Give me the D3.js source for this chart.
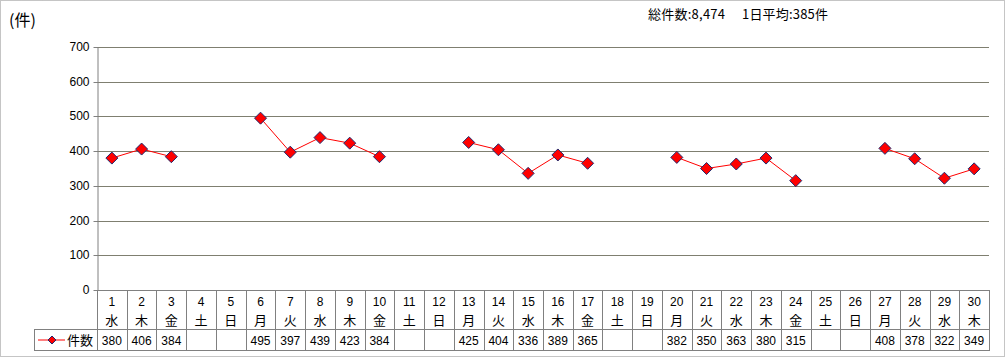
<!DOCTYPE html>
<html><head><meta charset="utf-8">
<script src="https://cdn.jsdelivr.net/npm/d3@7"></script>
<style>body{margin:0;background:#fff;}svg{display:block;font-family:"Noto Sans CJK JP","Noto Sans",sans-serif;}</style>
</head><body>
<script>
const days = d3.range(1, 31).map(String);
const weekdays = ["水","木","金","土","日","月","火","水","木","金","土","日","月","火","水","木","金","土","日","月","火","水","木","金","土","日","月","火","水","木"];
const counts = [380,406,384,null,null,495,397,439,423,384,null,null,425,404,336,389,365,null,null,382,350,363,380,315,null,null,408,378,322,349];
const yTicks = [0,100,200,300,400,500,600,700];
const seriesName = "件数";
const unitLabel = "(件)";
const summaryTotal = "総件数:8,474";
const summaryAvg = "1日平均:385件";

const W = 1006, H = 359;
const svg = d3.select("body").append("svg").attr("width", W).attr("height", H);
svg.append("rect").attr("x",0.5).attr("y",0.5).attr("width",1004).attr("height",356)
  .attr("fill","#fff").attr("stroke","#8a8a8a").attr("stroke-dasharray","1,1");

const x = d3.scaleBand().domain(days).range([97, 989]).padding(0);
const y = d3.scaleLinear().domain([0, 700]).range([290, 47]);

// gridlines
svg.append("g").selectAll("line").data(yTicks.filter(d=>d>0)).join("line")
  .attr("x1",97).attr("x2",989).attr("y1",d=>Math.round(y(d))+0.5).attr("y2",d=>Math.round(y(d))+0.5)
  .attr("stroke","#7f7f70").attr("stroke-width",1);

// y axis
const yAxis = d3.axisLeft(y).tickValues(yTicks).tickSize(4).tickSizeOuter(0).tickPadding(4);
const ga = svg.append("g").attr("transform","translate(97.5,0)").call(yAxis);
ga.select(".domain").attr("stroke","#808080");
ga.selectAll(".tick line").attr("stroke","#808080");
ga.selectAll(".tick text").attr("font-size",12).attr("fill","#000").attr("font-family","'Liberation Sans',sans-serif");
ga.selectAll(".tick").attr("transform", d => `translate(0,${Math.round(y(d))+0.5})`);

// table
const tb = svg.append("g").attr("stroke","#808080").attr("stroke-width",1);
tb.append("line").attr("x1",97).attr("x2",989).attr("y1",290.5).attr("y2",290.5);
tb.append("line").attr("x1",34).attr("x2",989).attr("y1",329.5).attr("y2",329.5);
tb.append("line").attr("x1",34).attr("x2",989).attr("y1",350.5).attr("y2",350.5);
tb.append("line").attr("x1",34.5).attr("x2",34.5).attr("y1",329).attr("y2",351);
const bounds = days.map(d=>x(d)).concat([x.range()[1]]);
tb.selectAll("line.v").data(bounds).join("line").attr("class","v")
  .attr("x1",d=>Math.round(d)+0.5).attr("x2",d=>Math.round(d)+0.5).attr("y1",290).attr("y2",351);

const cx = d => x(d) + x.bandwidth()/2;
svg.append("g").selectAll("text").data(days).join("text")
  .attr("x",d=>cx(d)).attr("y",305.5).attr("text-anchor","middle").attr("font-size",12)
  .attr("font-family","'Liberation Sans',sans-serif").text(d=>d);
svg.append("g").selectAll("text").data(weekdays).join("text")
  .attr("x",(d,i)=>cx(days[i])).attr("y",324.5).attr("text-anchor","middle").attr("font-size",13).text(d=>d);
svg.append("g").selectAll("text").data(counts).join("text")
  .attr("x",(d,i)=>cx(days[i])).attr("y",345).attr("text-anchor","middle").attr("font-size",12)
  .attr("font-family","'Liberation Sans',sans-serif").text(d=>d==null?"":d);

// line series
const line = d3.line().defined(d=>d.v!=null).x(d=>cx(d.k)).y(d=>y(d.v));
const pts = days.map((k,i)=>({k, v: counts[i]}));
svg.append("path").datum(pts).attr("d",line).attr("fill","none").attr("stroke","#ff0000").attr("stroke-width",1);
const diamond = "M0,-6L6,0L0,6L-6,0Z";
svg.append("g").selectAll("path").data(pts.filter(d=>d.v!=null)).join("path")
  .attr("transform",d=>`translate(${cx(d.k)},${y(d.v)})`).attr("d",diamond)
  .attr("fill","#ff0000").attr("stroke","#1f2a6e").attr("stroke-width",1);

// legend in table
svg.append("line").attr("x1",38).attr("x2",65).attr("y1",340).attr("y2",340).attr("stroke","#ff0000");
svg.append("path").attr("transform","translate(52,340)").attr("d","M0,-4L4,0L0,4L-4,0Z").attr("fill","#ff0000").attr("stroke","#1f2a6e");
svg.append("text").attr("x",67).attr("y",345).attr("font-size",13).text(seriesName);

// texts
svg.append("text").attr("x",9).attr("y",26).attr("font-size",16).text(unitLabel);
svg.append("text").attr("x",648).attr("y",19).attr("font-size",13).attr("textLength",77).text(summaryTotal);
svg.append("text").attr("x",742).attr("y",19).attr("font-size",13).attr("textLength",86).text(summaryAvg);
</script>
</body></html>
